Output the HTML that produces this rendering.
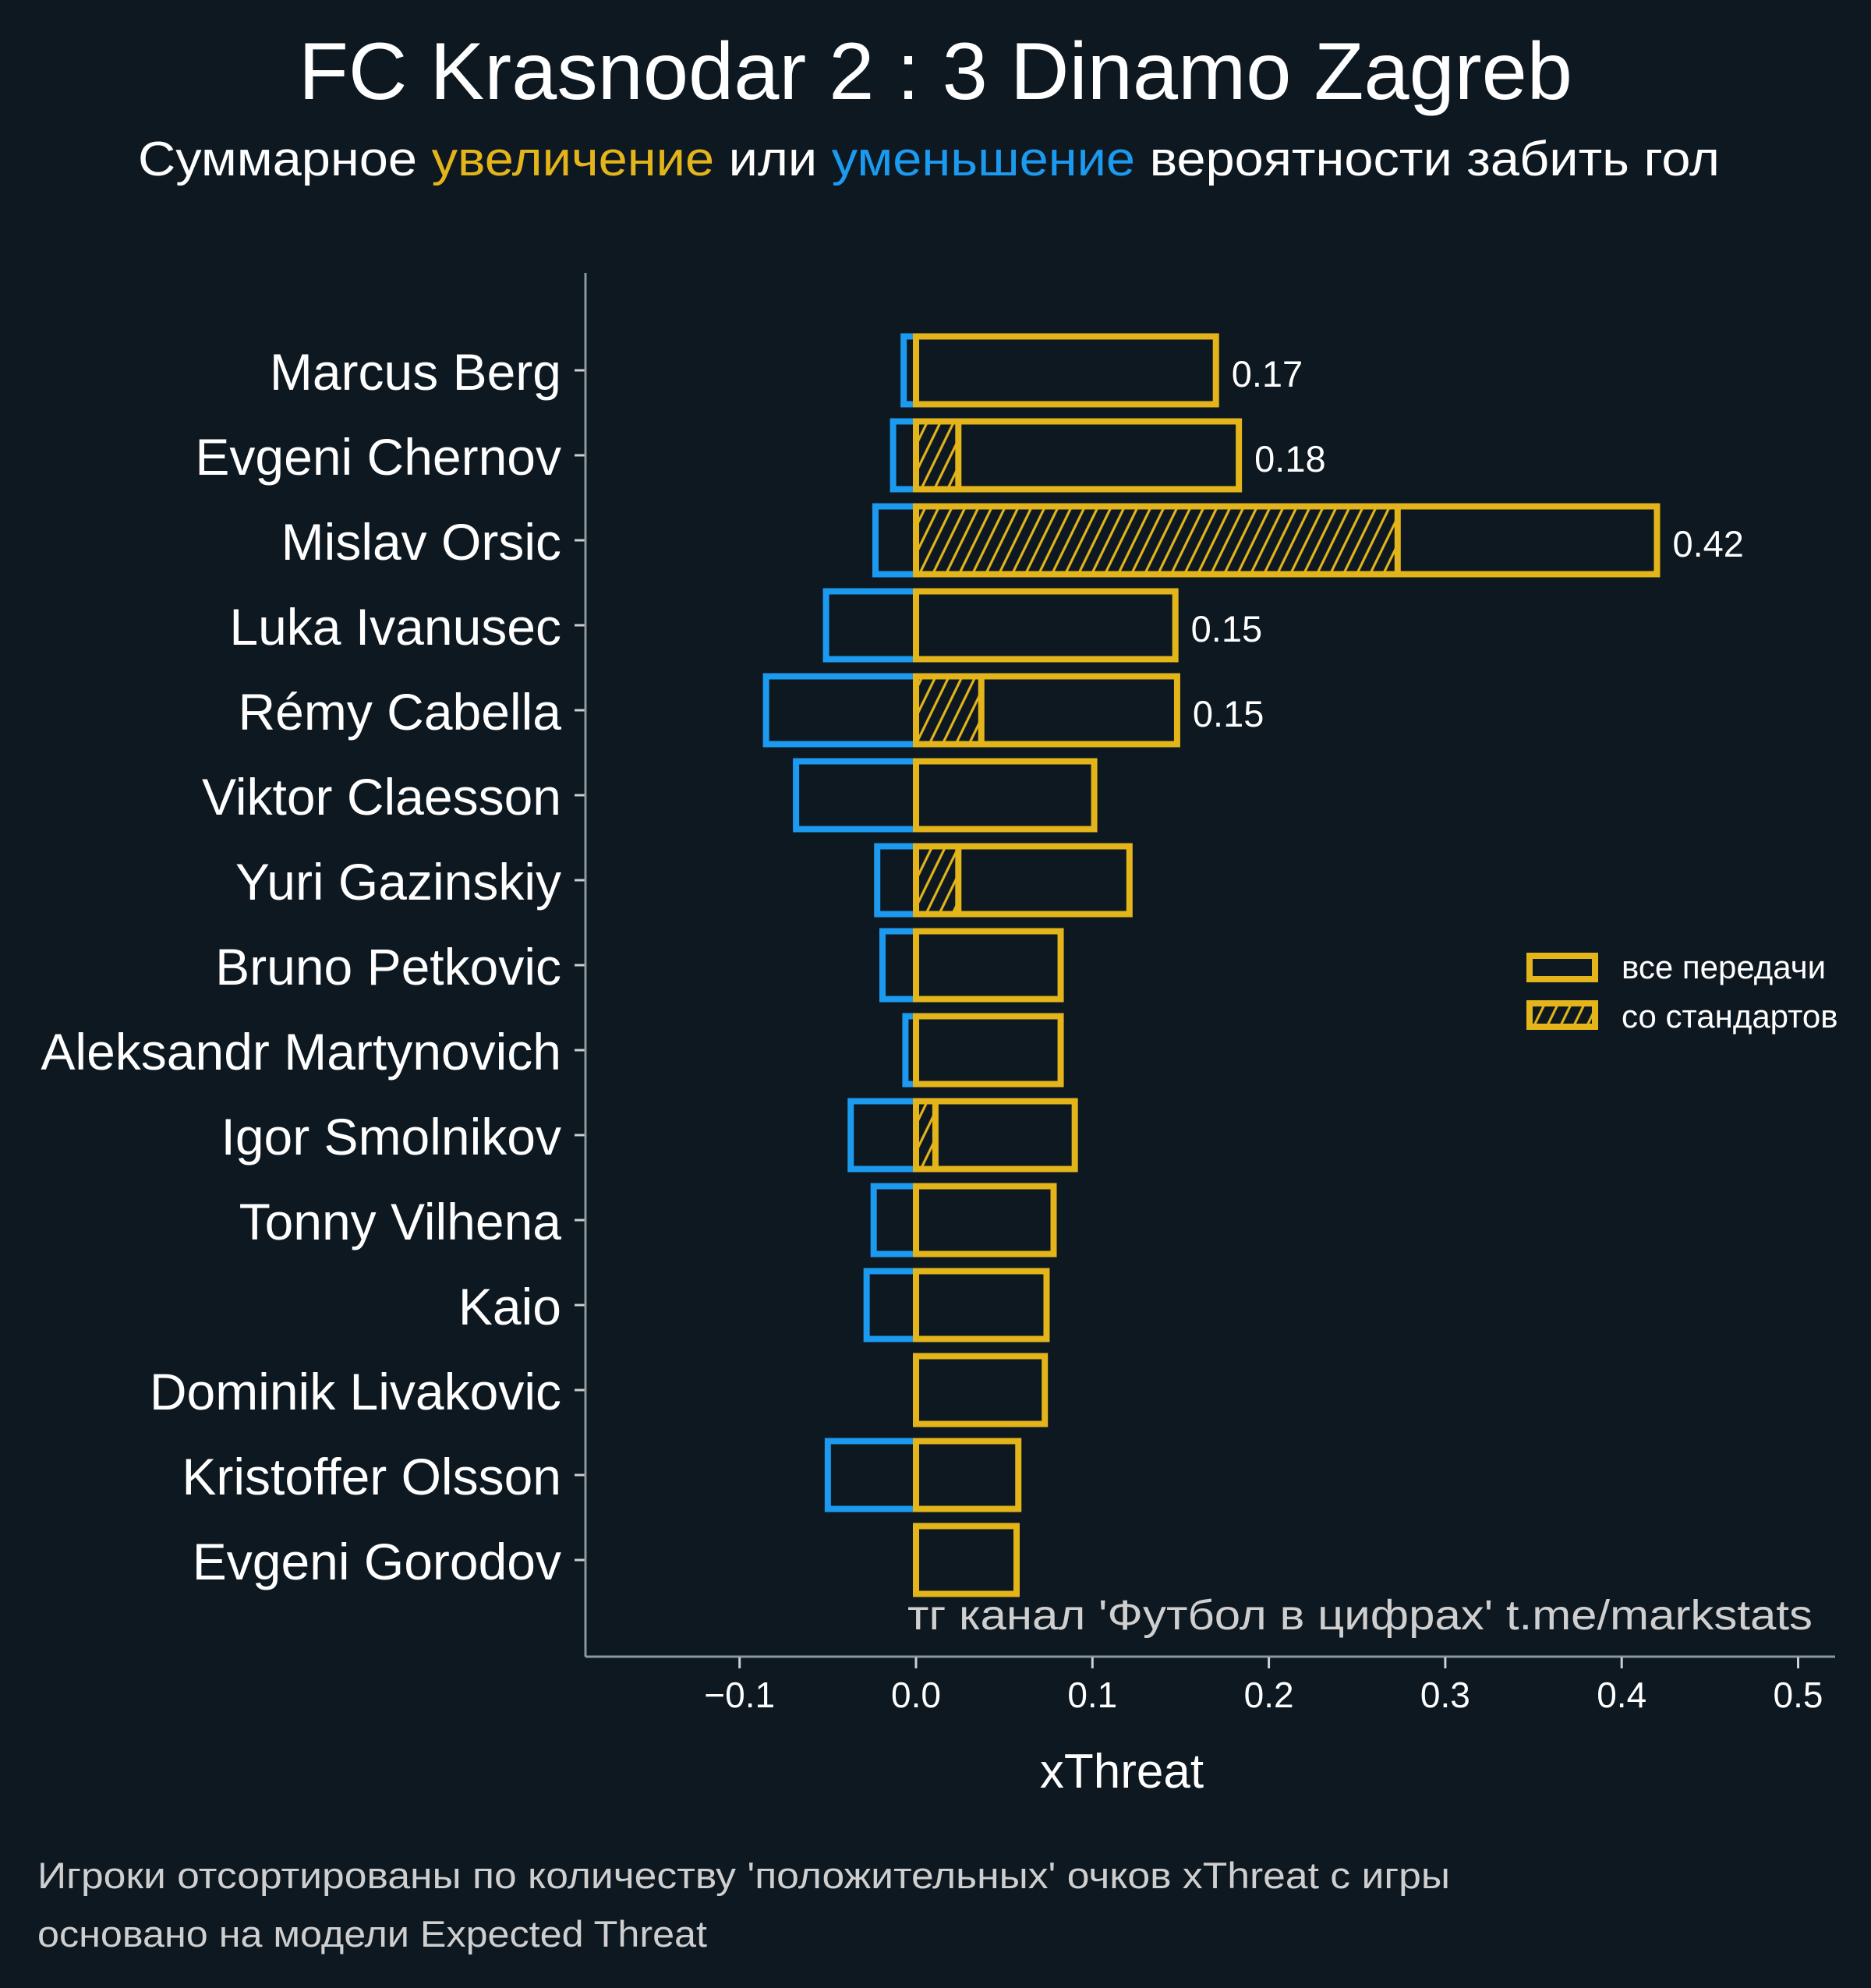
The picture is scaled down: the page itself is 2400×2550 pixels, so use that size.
<!DOCTYPE html>
<html><head><meta charset="utf-8"><style>
html,body{margin:0;padding:0;background:#0e1821;}
svg{display:block;}
text{font-family:"Liberation Sans","DejaVu Sans",sans-serif;}
</style></head><body>
<svg id="chart" width="2400" height="2550" viewBox="0 0 2400 2550" xmlns="http://www.w3.org/2000/svg">
<defs>
<pattern id="hatch" patternUnits="userSpaceOnUse" width="17" height="40" patternTransform="skewX(-26)">
<rect width="17" height="40" fill="#0e1821"/>
<line x1="8.5" y1="0" x2="8.5" y2="40" stroke="#e3b51a" stroke-width="3.5"/>
</pattern>
</defs>
<rect width="2400" height="2550" fill="#0e1821"/>
<text x="1200" y="127" text-anchor="middle" font-size="104" fill="#ffffff" textLength="1634" lengthAdjust="spacingAndGlyphs">FC Krasnodar 2 : 3 Dinamo Zagreb</text>
<text x="177" y="225" font-size="62" fill="#ffffff" textLength="2029" lengthAdjust="spacingAndGlyphs">Суммарное <tspan fill="#e3b51a">увеличение</tspan> или <tspan fill="#1c9af0">уменьшение</tspan> вероятности забить гол</text>
<g id="plot"></g>
<line x1="751" y1="350" x2="751" y2="2125" stroke="#8a9a98" stroke-width="3"/>
<line x1="751" y1="2125" x2="2354" y2="2125" stroke="#8a9a98" stroke-width="3"/>
<text x="1164" y="2090" font-size="54" fill="#cfcfcf" textLength="1161" lengthAdjust="spacingAndGlyphs">тг канал 'Футбол в цифрах'  t.me/markstats</text>
<text x="1439" y="2293" text-anchor="middle" font-size="62" fill="#ffffff">xThreat</text>
<g>
<rect x="1962" y="1226" width="84" height="30" fill="#0e1821" stroke="#e3b51a" stroke-width="8"/>
<text x="2080" y="1255" font-size="42" fill="#ffffff">все передачи</text>
<rect x="1962" y="1287" width="84" height="30" fill="url(#hatch)" stroke="#e3b51a" stroke-width="8"/>
<text x="2080" y="1318" font-size="42" fill="#ffffff">со стандартов</text>
</g>
<text x="48" y="2422" font-size="47" fill="#cfcfcf" textLength="1812" lengthAdjust="spacingAndGlyphs">Игроки отсортированы по количеству 'положительных' очков xThreat с игры</text>
<text x="48" y="2497" font-size="47" fill="#cfcfcf" textLength="859" lengthAdjust="spacingAndGlyphs">основано на модели Expected Threat</text>
</svg>
<script>
const players = ["Marcus Berg","Evgeni Chernov","Mislav Orsic","Luka Ivanusec","Rémy Cabella","Viktor Claesson","Yuri Gazinskiy","Bruno Petkovic","Aleksandr Martynovich","Igor Smolnikov","Tonny Vilhena","Kaio","Dominik Livakovic","Kristoffer Olsson","Evgeni Gorodov"];
const positiveValues = [0.170,0.183,0.420,0.147,0.148,0.101,0.121,0.082,0.082,0.090,0.078,0.074,0.073,0.058,0.057];
const setPieceValues = [0,0.024,0.273,0,0.037,0,0.024,0,0,0.011,0,0,0,0,0];
const negativeValues = [-0.007,-0.013,-0.023,-0.051,-0.085,-0.068,-0.022,-0.019,-0.006,-0.037,-0.024,-0.028,0,-0.050,0];
const valueLabels = ["0.17","0.18","0.42","0.15","0.15","","","","","","","","","",""];
const xTicks = [-0.1,0.0,0.1,0.2,0.3,0.4,0.5];
const xTickLabels = ["−0.1","0.0","0.1","0.2","0.3","0.4","0.5"];

const NS = "http://www.w3.org/2000/svg";
const svg = document.getElementById('chart');
const plot = document.getElementById('plot');
function xScale(v){ return 1175 + v * 2263; }
function yScale(i){ return 475 + i * 109; }
const barH = 87;
function mk(tag, attrs){ const e = document.createElementNS(NS, tag); for (const k in attrs) e.setAttribute(k, attrs[k]); return e; }

players.forEach((p, i) => {
  const cy = yScale(i);
  const g = mk('g', {});
  
  
  if (negativeValues[i] < 0) {
    const x0 = xScale(negativeValues[i]);
    const r = mk('rect', {x: x0, y: cy - barH/2, width: xScale(0) - x0, height: barH, fill: 'none', stroke: '#1c9af0', 'stroke-width': 8});
    
    
    g.appendChild(r);
  }
  if (setPieceValues[i] > 0) {
    const r = mk('rect', {x: xScale(0), y: cy - barH/2, width: xScale(setPieceValues[i]) - xScale(0), height: barH, fill: 'url(#hatch)', stroke: '#e3b51a', 'stroke-width': 8});
    
    
    g.appendChild(r);
  }
  const r = mk('rect', {x: xScale(0), y: cy - barH/2, width: xScale(positiveValues[i]) - xScale(0), height: barH, fill: 'none', stroke: '#e3b51a', 'stroke-width': 8});
  
  
  g.appendChild(r);
  if (valueLabels[i]) {
    const t = mk('text', {x: xScale(positiveValues[i]) + 20, y: cy + 21, 'font-size': 47, fill: '#ffffff'});
    t.textContent = valueLabels[i];
    
    
    g.appendChild(t);
  }
  const lbl = mk('text', {x: 720, y: cy + 25, 'font-size': 66, fill: '#ffffff', 'text-anchor': 'end'});
  lbl.textContent = p;
  
  
  g.appendChild(lbl);
  const tk = mk('line', {x1: 737, x2: 751, y1: cy, y2: cy, stroke: '#cfcfcf', 'stroke-width': 3});
  
  
  g.appendChild(tk);
  plot.appendChild(g);
});

xTicks.forEach((v, i) => {
  const x = xScale(v);
  const tk = mk('line', {x1: x, x2: x, y1: 2126, y2: 2140, stroke: '#cfcfcf', 'stroke-width': 3});
  
  
  svg.appendChild(tk);
  const t = mk('text', {x: x, y: 2190, 'font-size': 46, fill: '#ffffff', 'text-anchor': 'middle'});
  t.textContent = xTickLabels[i];
  
  
  svg.appendChild(t);
});
</script>
</body></html>
